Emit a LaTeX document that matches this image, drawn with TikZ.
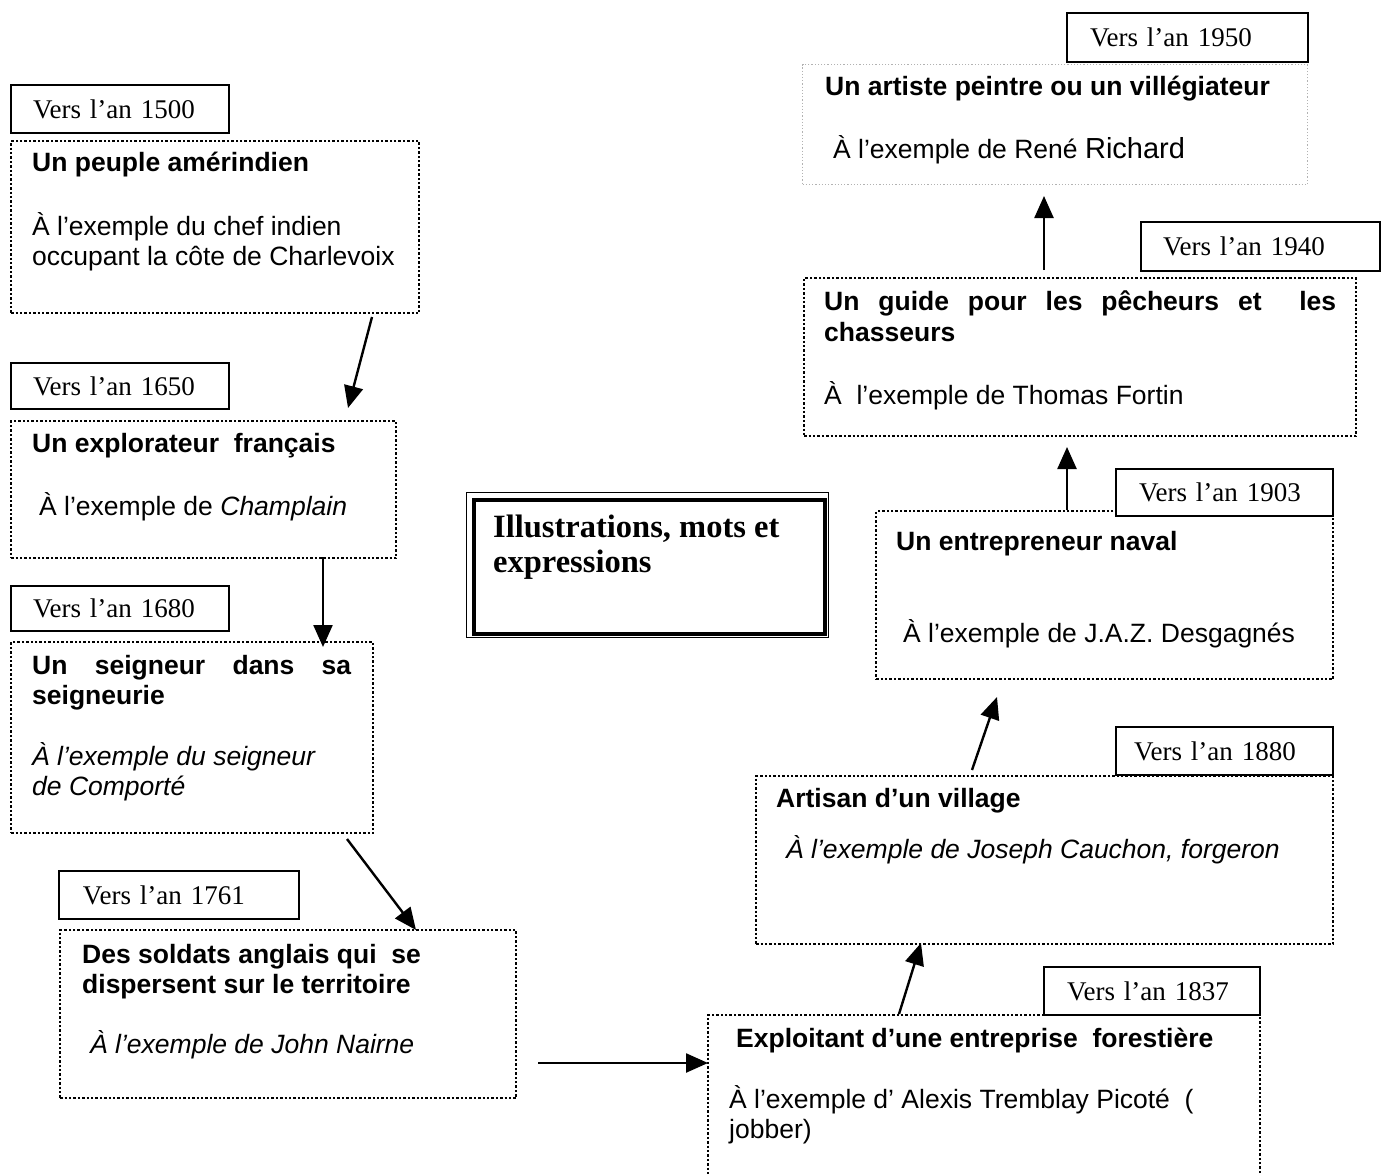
\documentclass[tikz,border=0pt]{standalone}
\usepackage{fontspec}
\setmainfont{Liberation Serif}
\newfontfamily\arialf{Liberation Sans}
\usetikzlibrary{arrows.meta}
\tikzset{
  dbox/.style={draw, line width=2.4pt, dash pattern=on 2.4pt off 2pt, rectangle, inner sep=0pt, anchor=north west},
  lbox/.style={draw=gray!60, line width=1.2pt, dash pattern=on 1.2pt off 2pt, rectangle, inner sep=0pt, anchor=north west},
  yearlab/.style={draw, line width=2pt, fill=white, rectangle, inner xsep=0pt, inner ysep=0pt, anchor=north west, align=left, font={\fontsize{27pt}{30pt}\selectfont}},
  txt/.style={inner sep=0pt, anchor=base west, font={\arialf\fontsize{26.5pt}{30pt}\selectfont}},
  hd/.style={inner sep=0pt, anchor=base west, font={\arialf\bfseries\fontsize{26.5pt}{30pt}\selectfont}},
  itx/.style={inner sep=0pt, anchor=base west, font={\arialf\itshape\fontsize{26.5pt}{30pt}\selectfont}},
  ttl/.style={inner sep=0pt, anchor=base west, font={\bfseries\fontsize{32.5pt}{36pt}\selectfont}},
  arr/.style={line width=2.4pt, -{Triangle[length=22pt,width=19pt]}},
}
\newcommand\yl[7]{\node[yearlab, minimum width=#4pt, minimum height=#5pt, text width=#4pt] (#1) at (#2,#3) {\hspace*{#6pt}#7};}
\begin{document}
\begin{tikzpicture}[x=1pt,y=-1pt]
\clip (0,0) rectangle (1382,1175);
\fill[white] (0,0) rectangle (1382,1175);

% dotted boxes
\node[dbox, minimum width=408pt, minimum height=172pt] (b1) at (10,140) {};
\node[dbox, minimum width=385pt, minimum height=137pt] (b2) at (10,420) {};
\node[dbox, minimum width=362pt, minimum height=191pt] (b3) at (10,641) {};
\node[dbox, minimum width=456pt, minimum height=168pt] (b4) at (59,929) {};
\node[dbox, minimum width=552pt, minimum height=200pt] (b5) at (707,1014) {};
\node[dbox, minimum width=577pt, minimum height=168pt] (b6) at (755,775) {};
\node[dbox, minimum width=457pt, minimum height=168pt] (b7) at (875,510) {};
\node[dbox, minimum width=552pt, minimum height=158pt] (b8) at (803,277) {};
\node[lbox, minimum width=505pt, minimum height=120pt] (b9) at (802,64) {};

% centre box
\node[draw, line width=1.3pt, rectangle, inner sep=0pt, anchor=north west, minimum width=362pt, minimum height=145pt] (cbox) at (466,492) {};
\node[draw, line width=4.5pt, rectangle, inner sep=0pt, anchor=north west, minimum width=351pt, minimum height=134pt] (cboxin) at (471.5,497.5) {};
\node[ttl] (ct1) at (493,537) {Illustrations, mots et};
\node[ttl] (ct2) at (493,572) {expressions};

% year labels
\yl{y1}{10}{84}{218}{48}{22}{Vers l’an 1500}
\yl{y2}{10}{362}{218}{46}{22}{Vers l’an 1650}
\yl{y3}{10}{585}{218}{45}{22}{Vers l’an 1680}
\yl{y4}{58}{870}{240}{48}{24}{Vers l’an 1761}
\yl{y5}{1043}{966}{216}{48}{23}{Vers l’an 1837}
\yl{y6}{1115}{726}{217}{48}{18}{Vers l’an 1880}
\yl{y7}{1115}{468}{217}{47}{23}{Vers l’an 1903}
\yl{y8}{1140}{221}{239}{49}{22}{Vers l’an 1940}
\yl{y9}{1066}{12}{241}{49}{23}{Vers l’an 1950}

% texts box 1
\node[hd] (t1a) at (32,171) {Un peuple amérindien};
\node[txt] (t1b) at (32,235) {À l’exemple du chef indien};
\node[txt] (t1c) at (32,265) {occupant la côte de Charlevoix};
% box 2
\node[hd] (t2a) at (32,452) {Un explorateur\ \ français};
\node[txt] (t2b) at (39,515) {À l’exemple de \textit{Champlain}};
% box 3
\node[hd] (t3a) at (32,674) {\hbox to 319pt{Un\hfill seigneur\hfill dans\hfill sa}};
\node[hd] (t3b) at (32,704) {seigneurie};
\node[itx] (t3c) at (32,765) {À l’exemple du seigneur};
\node[itx] (t3d) at (32,795) {de Comporté};
% box 4
\node[hd] (t4a) at (82,963) {Des soldats anglais qui\ \ se};
\node[hd] (t4b) at (82,993) {dispersent sur le territoire};
\node[itx] (t4c) at (90,1053) {À l’exemple de John Nairne};
% box 5
\node[hd] (t5a) at (736,1047) {Exploitant d’une entreprise\ \ forestière};
\node[txt] (t5b) at (729,1108) {À l’exemple d’ Alexis Tremblay Picoté\ \ (};
\node[txt] (t5c) at (729,1138) {jobber)};
% box 6
\node[hd] (t6a) at (776,807) {Artisan d’un village};
\node[itx] (t6b) at (786,858) {À l’exemple de Joseph Cauchon, forgeron};
% box 7
\node[hd] (t7a) at (896,550) {Un entrepreneur naval};
\node[txt] (t7b) at (903,642) {À l’exemple de J.A.Z. Desgagnés};
% box 8
\node[hd] (t8a) at (824,310) {\hbox to 512pt{Un\hfill guide\hfill pour\hfill les\hfill pêcheurs\hfill et\hfill\hfill les}};
\node[hd] (t8b) at (824,341) {chasseurs};
\node[txt] (t8c) at (824,404) {À\ \ l’exemple de Thomas Fortin};
% box 9
\node[hd] (t9a) at (825,95) {Un artiste peintre ou un villégiateur};
\node[txt] (t9b) at (833,158) {À l’exemple de René {\fontsize{29pt}{30pt}\selectfont Richard}};

% arrow end points
\coordinate (a1s) at (372,317); \coordinate (a1e) at (348,408);
\coordinate (a2s) at (323,557); \coordinate (a2e) at (323,647);
\coordinate (a3s) at (347,839); \coordinate (a3e) at (416,930);
\coordinate (a4s) at (538,1063); \coordinate (a4e) at (708,1063);
\coordinate (a5s) at (899,1014); \coordinate (a5e) at (921,943);
\coordinate (a6s) at (972,770); \coordinate (a6e) at (997,697);
\coordinate (a7s) at (1067,510); \coordinate (a7e) at (1067,447);
\coordinate (a8s) at (1044,270); \coordinate (a8e) at (1044,196);
\draw[arr] (a1s) -- (a1e);
\draw[arr] (a2s) -- (a2e);
\draw[arr] (a3s) -- (a3e);
\draw[arr] (a4s) -- (a4e);
\draw[arr] (a5s) -- (a5e);
\draw[arr] (a6s) -- (a6e);
\draw[arr] (a7s) -- (a7e);
\draw[arr] (a8s) -- (a8e);
\end{tikzpicture}
\end{document}
